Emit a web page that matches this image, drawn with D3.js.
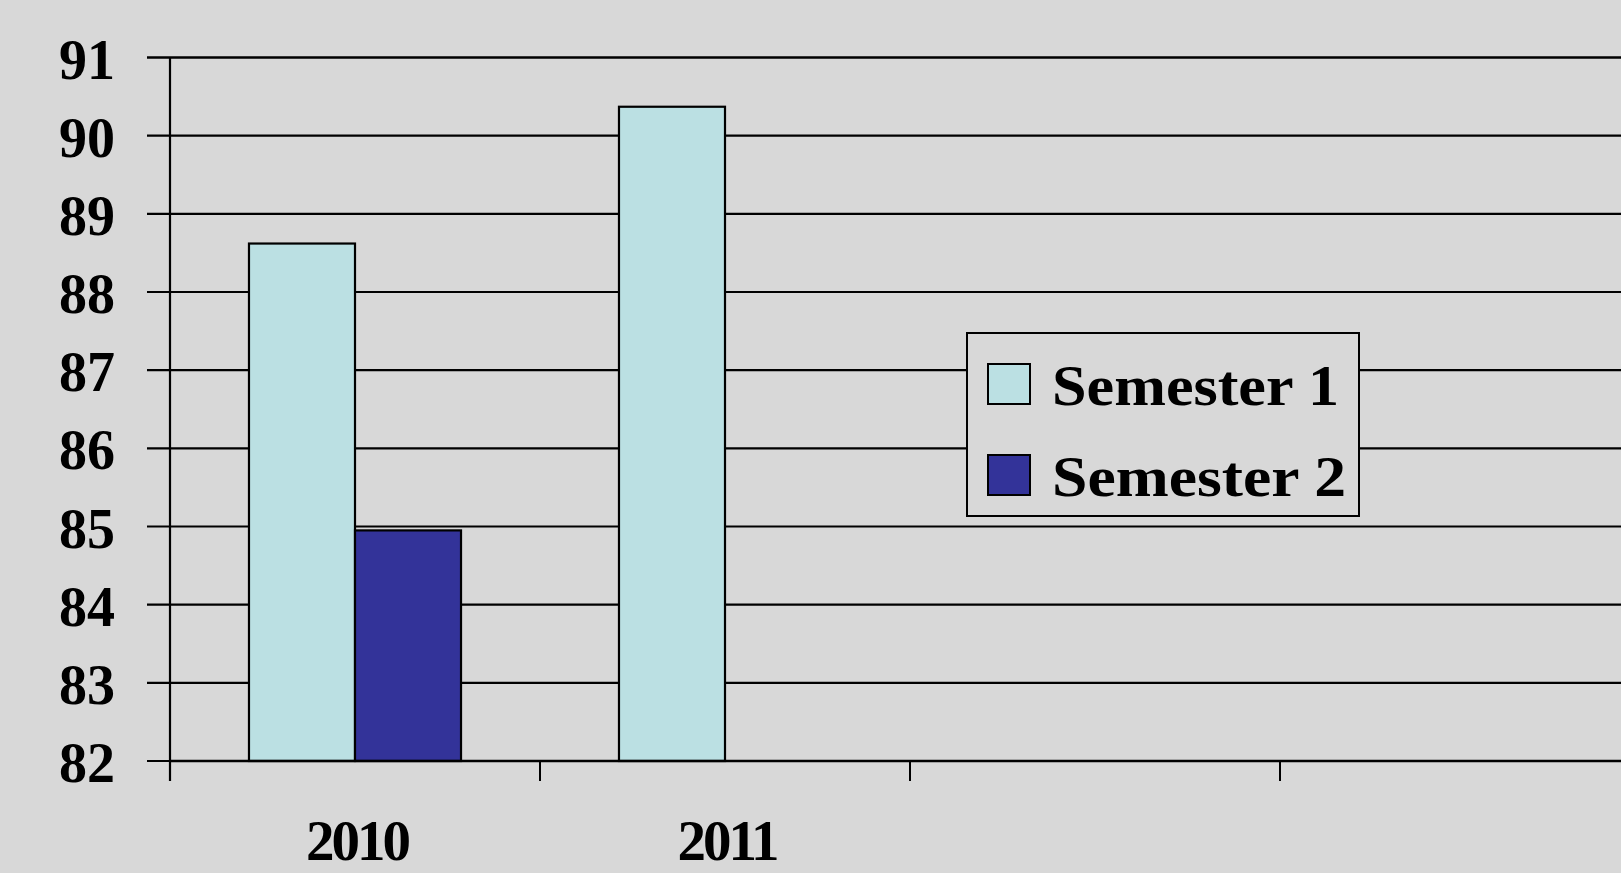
<!DOCTYPE html>
<html>
<head>
<meta charset="utf-8">
<script src="https://cdn.jsdelivr.net/npm/d3@7"></script>
<style>
  html, body { margin: 0; padding: 0; background: #d8d8d8; overflow: hidden; }
  svg { display: block; }
  text { font-family: "Liberation Serif", "Times New Roman", serif; font-weight: bold; fill: #000; }
</style>
</head>
<body>
<svg id="chart" width="1621" height="873"></svg>
<script>
// Average scores per year, two semesters
const categories = ["2010", "2011", "", " "];
const seriesNames = ["Semester 1", "Semester 2"];
const semester1 = [88.62, 90.37, null, null];
const semester2 = [84.95, null, null, null];
const yTicks = [82, 83, 84, 85, 86, 87, 88, 89, 90, 91];

const colors = { "Semester 1": "#bbe0e3", "Semester 2": "#333399" };

const svg = d3.select("#chart");
const W = 1621, H = 873;

svg.append("rect").attr("width", W).attr("height", H).attr("fill", "#d8d8d8");

const plotLeft = 170, plotRight = 1650, plotTop = 57.5, plotBottom = 761;

const x0 = d3.scaleBand().domain(categories).range([plotLeft, plotRight]).padding(0);
const x1 = d3.scaleBand().domain(seriesNames).range([0, x0.bandwidth()])
  .paddingInner(0).paddingOuter(0.745);
const y = d3.scaleLinear().domain([82, 91]).range([plotBottom, plotTop]);

// Horizontal gridlines (extend into the y tick marks)
svg.append("g").selectAll("line").data(yTicks).join("line")
  .attr("x1", plotLeft - 23).attr("x2", W + 40)
  .attr("y1", d => y(d)).attr("y2", d => y(d))
  .attr("stroke", "#000").attr("stroke-width", d => d === 91 ? 2.6 : 2.2);

// Y tick labels
svg.append("g").selectAll("text").data(yTicks).join("text")
  .attr("x", 115).attr("y", d => y(d) + 21)
  .attr("text-anchor", "end")
  .attr("font-size", 56)
  .text(d => d);

// Bars
const rows = categories.map((c, i) => ({
  cat: c,
  values: [
    { s: "Semester 1", v: semester1[i] },
    { s: "Semester 2", v: semester2[i] }
  ].filter(d => d.v != null)
}));

svg.append("g").selectAll("g").data(rows).join("g")
  .attr("transform", d => `translate(${x0(d.cat)},0)`)
  .selectAll("rect").data(d => d.values).join("rect")
  .attr("x", d => x1(d.s))
  .attr("width", x1.bandwidth())
  .attr("y", d => y(d.v))
  .attr("height", d => y(82) - y(d.v))
  .attr("fill", d => colors[d.s])
  .attr("stroke", "#000").attr("stroke-width", 2.2);

// Y axis line
svg.append("line")
  .attr("x1", plotLeft).attr("x2", plotLeft)
  .attr("y1", plotTop).attr("y2", plotBottom + 20)
  .attr("stroke", "#000").attr("stroke-width", 2.2);

// X axis line and category ticks
svg.append("line")
  .attr("x1", plotLeft).attr("x2", W + 40)
  .attr("y1", plotBottom).attr("y2", plotBottom)
  .attr("stroke", "#000").attr("stroke-width", 2.6);

const tickXs = categories.map(c => x0(c)).concat([plotRight]);
svg.append("g").selectAll("line").data(tickXs).join("line")
  .attr("x1", d => d).attr("x2", d => d)
  .attr("y1", plotBottom).attr("y2", plotBottom + 20)
  .attr("stroke", "#000").attr("stroke-width", 2);

// Category labels
svg.append("g").selectAll("text").data(categories).join("text")
  .attr("x", d => x0(d) + x0.bandwidth() / 2 + 2)
  .attr("y", 860)
  .attr("text-anchor", "middle")
  .attr("font-size", 57)
  .attr("letter-spacing", -3)
  .text(d => d.trim());

// Legend
const legend = svg.append("g");
legend.append("rect")
  .attr("x", 967).attr("y", 333).attr("width", 392).attr("height", 183)
  .attr("fill", "#d8d8d8").attr("stroke", "#000").attr("stroke-width", 2);

const legendTextLengths = [287, 294];
const legendItems = legend.selectAll("g").data(seriesNames).join("g")
  .attr("transform", (d, i) => `translate(0,${i * 91})`);
legendItems.append("rect")
  .attr("x", 988).attr("y", 364).attr("width", 42).attr("height", 40)
  .attr("fill", d => colors[d]).attr("stroke", "#000").attr("stroke-width", 2);
legendItems.append("text")
  .attr("x", 1052).attr("y", 405)
  .attr("font-size", 58)
  .attr("textLength", (d, i) => legendTextLengths[i]).attr("lengthAdjust", "spacingAndGlyphs")
  .text(d => d);
</script>
</body>
</html>
